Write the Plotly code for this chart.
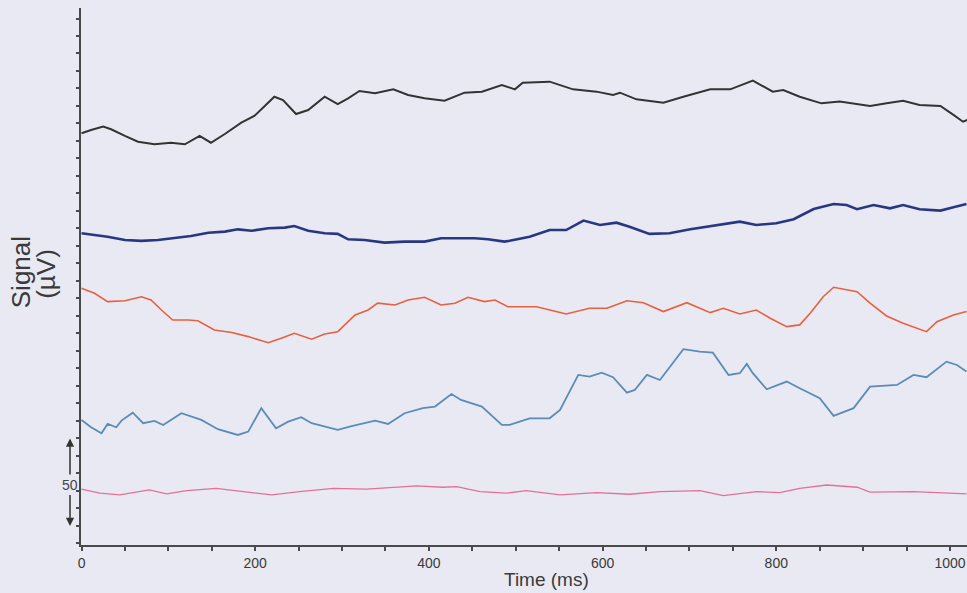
import plotly.graph_objects as go

# ---- recorded traces (time in ms, signal in µV, each channel offset vertically) ----
t_ch1 = [0, 11, 25, 34, 50, 65, 84, 103, 119, 136, 149, 165, 184, 199, 211, 222, 232, 247, 261, 280,
         295, 307, 320, 338, 359, 376, 395, 418, 441, 461, 484, 499, 508, 539, 566, 593, 612, 620, 639, 670,
         693, 724, 747, 762, 773, 796, 808, 827, 852, 873, 908, 927, 946, 965, 989, 1004, 1015, 1020]
v_ch1 = [234.4, 236.3, 238.2, 236.7, 232.9, 229.6, 228.1, 229.0, 228.1, 232.9, 229.0, 234.0, 240.5, 244.3, 250.0, 255.3, 253.4, 245.4, 247.7, 255.3,
         251.1, 254.4, 258.6, 257.3, 259.5, 256.3, 254.4, 253.0, 257.6, 258.2, 262.0, 259.5, 263.3, 263.9, 259.5, 258.2, 256.3, 257.6, 253.8, 251.9,
         255.3, 259.5, 259.5, 262.6, 264.5, 258.2, 259.1, 255.3, 251.5, 252.5, 250.0, 251.5, 253.0, 250.6, 250.0, 244.9, 241.0, 242.0]

t_ch2 = [0, 15, 30, 50, 69, 88, 107, 126, 146, 165, 180, 196, 215, 234, 245, 261, 280, 295, 307, 326,
         349, 372, 395, 414, 434, 453, 468, 487, 493, 516, 539, 558, 578, 597, 616, 631, 654, 677, 701, 724,
         758, 777, 800, 820, 843, 866, 881, 893, 912, 931, 946, 965, 989, 1004, 1019]
v_ch2 = [177.3, 176.3, 175.3, 173.4, 172.9, 173.4, 174.7, 175.7, 177.6, 178.2, 179.5, 178.7, 180.1, 180.5, 181.4, 178.7, 177.3, 176.9, 173.8, 173.4,
         171.9, 172.5, 172.5, 174.4, 174.4, 174.4, 173.8, 172.5, 173.0, 175.3, 179.1, 179.1, 184.5, 182.0, 183.3, 181.0, 176.9, 177.3, 179.5, 181.4,
         183.9, 182.0, 183.0, 185.3, 191.1, 194.0, 193.4, 191.0, 193.4, 191.5, 193.4, 191.0, 190.2, 192.1, 194.0]

t_ch3 = [0, 15, 30, 50, 69, 80, 92, 105, 123, 134, 153, 173, 192, 215, 230, 245, 265, 280, 295, 315,
         330, 341, 361, 376, 395, 414, 430, 445, 464, 476, 491, 524, 558, 585, 605, 628, 647, 670, 697, 724,
         739, 758, 777, 793, 812, 827, 839, 854, 866, 877, 893, 908, 927, 946, 973, 985, 1004, 1019]
v_ch3 = [145.8, 143.0, 138.2, 138.7, 141.0, 139.1, 133.4, 127.7, 127.7, 127.3, 122.0, 120.5, 118.2, 114.7, 117.3, 120.1, 116.7, 119.7, 121.0, 130.6,
         133.4, 137.3, 136.3, 139.1, 140.7, 136.3, 137.3, 140.7, 138.2, 139.1, 135.3, 135.3, 131.1, 134.4, 134.4, 138.7, 137.6, 132.5, 137.6, 131.9,
         134.4, 131.1, 133.4, 128.7, 123.9, 124.9, 131.5, 141.0, 146.4, 145.3, 143.9, 137.3, 130.0, 125.8, 121.0, 126.7, 130.6, 132.5]

t_ch4 = [0, 11, 23, 30, 40, 46, 59, 71, 84, 94, 115, 138, 157, 180, 192, 207, 224, 238, 253, 265,
         295, 311, 338, 353, 372, 393, 407, 426, 437, 461, 484, 493, 516, 539, 551, 572, 585, 599, 612, 628,
         637, 651, 666, 693, 712, 727, 745, 758, 766, 773, 789, 812, 827, 850, 866, 889, 908, 939, 958, 973,
         996, 1008, 1019]
v_ch4 = [70.6, 66.4, 63.0, 68.3, 66.4, 70.2, 74.7, 68.7, 70.0, 67.7, 74.4, 70.6, 65.3, 62.0, 63.9, 77.3, 65.8, 69.6, 72.1, 68.7,
         64.9, 67.1, 70.2, 68.3, 74.4, 77.3, 78.2, 85.4, 82.0, 78.2, 67.7, 67.7, 71.5, 71.5, 76.3, 96.3, 95.3, 97.6, 95.0, 86.2,
         87.7, 96.3, 93.4, 111.0, 109.6, 109.0, 96.3, 97.3, 102.6, 97.3, 88.1, 92.5, 88.7, 83.0, 72.9, 77.3, 89.6, 90.6, 96.3, 95.0,
         103.9, 102.0, 98.2]

t_ch5 = [0, 21, 44, 78, 98, 121, 155, 190, 219, 251, 290, 328, 386, 416, 432, 459, 489, 512, 551, 593,
         631, 666, 712, 739, 777, 804, 827, 858, 893, 908, 958, 1019]
v_ch5 = [31.0, 28.7, 27.7, 30.6, 28.3, 30.2, 31.5, 29.6, 27.7, 29.6, 31.5, 31.0, 32.9, 32.1, 32.5, 29.6, 28.7, 30.2, 27.7, 29.0,
         28.1, 29.6, 30.2, 27.3, 29.6, 29.0, 31.5, 33.4, 32.1, 29.3, 29.6, 28.3]

x_ticks = [0, 200, 400, 600, 800, 1000]
x_tick_labels = ["0", "200", "400", "600", "800", "1000"]

# vertical scale bar
scale_bar_uv = 50
scale_bar_bottom = 10
scale_bar_label = "50"

channels = [
    (t_ch1, v_ch1, "#333333", 2.0),
    (t_ch2, v_ch2, "#283782", 2.6),
    (t_ch3, v_ch3, "#e8603e", 1.6),
    (t_ch4, v_ch4, "#5b8cb6", 1.8),
    (t_ch5, v_ch5, "#e27199", 1.3),
]

BG = "#e9e9f3"
AXIS = "#4a4a4a"
FONT = "Liberation Sans, Arial, sans-serif"

fig = go.Figure()
for t, v, color, width in channels:
    fig.add_trace(go.Scatter(x=t, y=v, mode="lines",
                             line=dict(color=color, width=width), showlegend=False,
                             hoverinfo="skip"))

fig.update_layout(
    width=967, height=593,
    margin=dict(l=81, r=0, t=8, b=48),
    paper_bgcolor=BG, plot_bgcolor=BG,
    font=dict(family=FONT, color="#3a3a3a"),
    xaxis=dict(range=[-0.6, 1019.6], showgrid=False, zeroline=False,
               showline=True, linecolor=AXIS, linewidth=2,
               tickmode="array", tickvals=x_ticks, ticktext=x_tick_labels,
               ticks="outside", ticklen=4, tickwidth=1.5, tickcolor=AXIS,
               tickfont=dict(size=14, color="#3a3a3a"),
               minor=dict(dtick=50, ticks="outside", ticklen=4, tickwidth=1.5,
                          tickcolor=AXIS, showgrid=False)),
    yaxis=dict(range=[-0.9, 306], showgrid=False, zeroline=False,
               showline=True, linecolor=AXIS, linewidth=1.6,
               dtick=10, tick0=0, ticks="outside", ticklen=3, tickwidth=1.5,
               tickcolor=AXIS, showticklabels=False),
)

# axis titles
fig.add_annotation(x=-0.0677, y=0.508, xref="paper", yref="paper", text="Signal",
                   textangle=-90, showarrow=False, xanchor="center", yanchor="middle",
                   font=dict(size=26, color="#3a3a3a", family=FONT))
fig.add_annotation(x=-0.0395, y=0.505, xref="paper", yref="paper", text="(µV)",
                   textangle=-90, showarrow=False, xanchor="center", yanchor="middle",
                   font=dict(size=26, color="#3a3a3a", family=FONT))
fig.add_annotation(x=0.525, y=-0.065, xref="paper", yref="paper", text="Time (ms)",
                   showarrow=False, xanchor="center", yanchor="middle",
                   font=dict(size=19, color="#3a3a3a", family=FONT))

# scale bar: label in the middle, arrows out to both ends
bar_x = -0.0124
bar_top = scale_bar_bottom + scale_bar_uv
bar_mid = scale_bar_bottom + scale_bar_uv / 2
fig.add_annotation(x=bar_x, y=bar_mid - 1.5, xref="paper", yref="y", text=scale_bar_label,
                   showarrow=False, xanchor="center", yanchor="middle",
                   font=dict(size=14, color="#444444", family=FONT))
fig.add_annotation(x=bar_x, y=bar_top, xref="paper", yref="y", text="",
                   ax=0, ay=bar_mid + 3.5, axref="pixel", ayref="y",
                   showarrow=True, arrowhead=2, arrowsize=1.1, arrowwidth=1.5,
                   arrowcolor="#333333")
fig.add_annotation(x=bar_x, y=scale_bar_bottom, xref="paper", yref="y", text="",
                   ax=0, ay=bar_mid - 6.5, axref="pixel", ayref="y",
                   showarrow=True, arrowhead=2, arrowsize=1.1, arrowwidth=1.5,
                   arrowcolor="#333333")

fig.write_html("out.html")
